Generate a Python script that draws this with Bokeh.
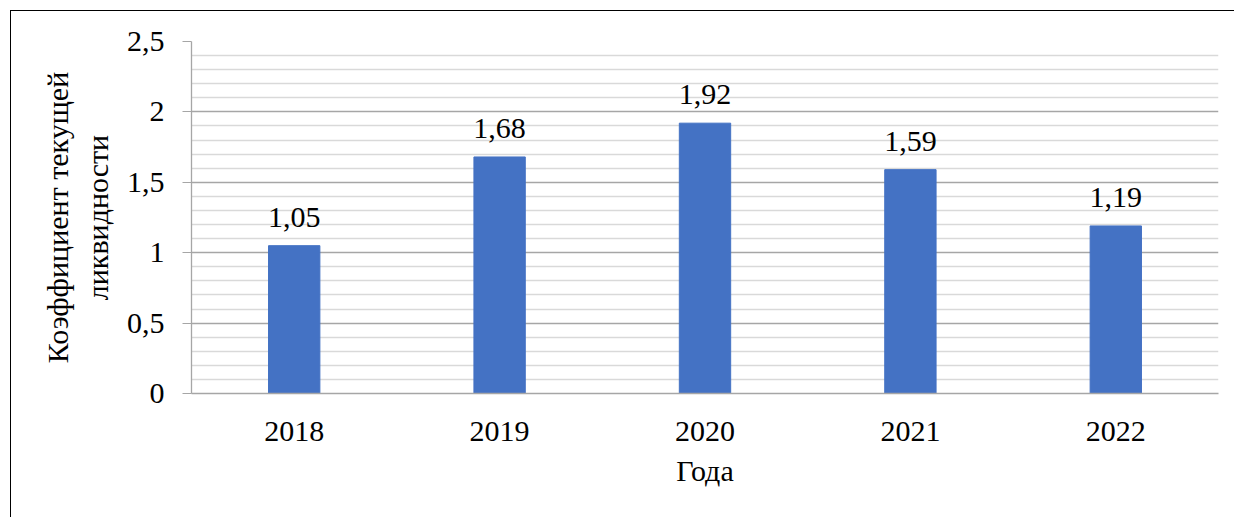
from bokeh.plotting import figure
from bokeh.models import FixedTicker, ColumnDataSource, LabelSet, FactorRange, Range1d
from bokeh.embed import file_html
from bokeh.resources import INLINE

years = ["2018", "2019", "2020", "2021", "2022"]
values = [1.05, 1.68, 1.92, 1.59, 1.19]
labels = ["1,05", "1,68", "1,92", "1,59", "1,19"]
y_ticks = [0, 0.5, 1, 1.5, 2, 2.5]
y_tick_labels = ["0", "0,5", "1", "1,5", "2", "2,5"]
y_minor = [0.1, 0.2, 0.3, 0.4, 0.6, 0.7, 0.8, 0.9, 1.1, 1.2, 1.3, 1.4,
           1.6, 1.7, 1.8, 1.9, 2.1, 2.2, 2.3, 2.4]

FONT = "Liberation Serif"

W, H = 1224, 507
p = figure(width=W, height=H, x_range=FactorRange(*years), y_range=Range1d(0, 2.5),
           output_backend="svg", toolbar_location=None)
p.styles = {"margin-left": "10px", "margin-top": "10px",
            "border-left": "1.5px solid #000", "border-top": "1.5px solid #000"}

p.min_border_left = 180
p.min_border_right = 17
p.min_border_top = 30
p.min_border_bottom = 125
p.outline_line_color = None
p.background_fill_color = "white"
p.border_fill_color = "white"

src = ColumnDataSource(dict(x=years, top=values, lab=labels))
p.vbar(x="x", top="top", width=0.25, source=src, color="#4472C4")

p.add_layout(LabelSet(x="x", y="top", text="lab", source=src, text_align="center",
                      text_baseline="alphabetic", y_offset=19, text_font=FONT,
                      text_font_size="30px", text_color="#000"))

ticker = FixedTicker(ticks=y_ticks, minor_ticks=y_minor)
p.yaxis.ticker = ticker
p.yaxis.major_label_overrides = {t: l for t, l in zip(y_ticks, y_tick_labels)}
p.ygrid.ticker = ticker
p.ygrid.grid_line_color = "#a6a6a6"
p.ygrid.grid_line_width = 1.3
p.ygrid.minor_grid_line_color = "#d9d9d9"
p.ygrid.minor_grid_line_width = 1.3
p.xgrid.grid_line_color = None

for ax in (p.xaxis, p.yaxis):
    ax.axis_line_color = "#a6a6a6"
    ax.axis_line_width = 1.3
    ax.major_label_text_font = FONT
    ax.major_label_text_font_size = "30px"
    ax.major_label_text_color = "#000"
    ax.axis_label_text_font = FONT
    ax.axis_label_text_font_size = "30px"
    ax.axis_label_text_font_style = "normal"
    ax.axis_label_text_color = "#000"
    ax.minor_tick_line_color = None

p.yaxis.major_tick_line_color = "#a6a6a6"
p.yaxis.major_tick_out = 9
p.yaxis.major_tick_in = 0
p.yaxis.major_label_standoff = 18
p.yaxis.axis_label = "Коэффициент текущей\nликвидности"
p.yaxis.axis_label_standoff = 10

p.xaxis.major_tick_line_color = None
p.xaxis.major_label_standoff = 22
p.xaxis.axis_label = "Года"
p.xaxis.axis_label_standoff = 10

open("out.html", "w").write(file_html(p, INLINE))
